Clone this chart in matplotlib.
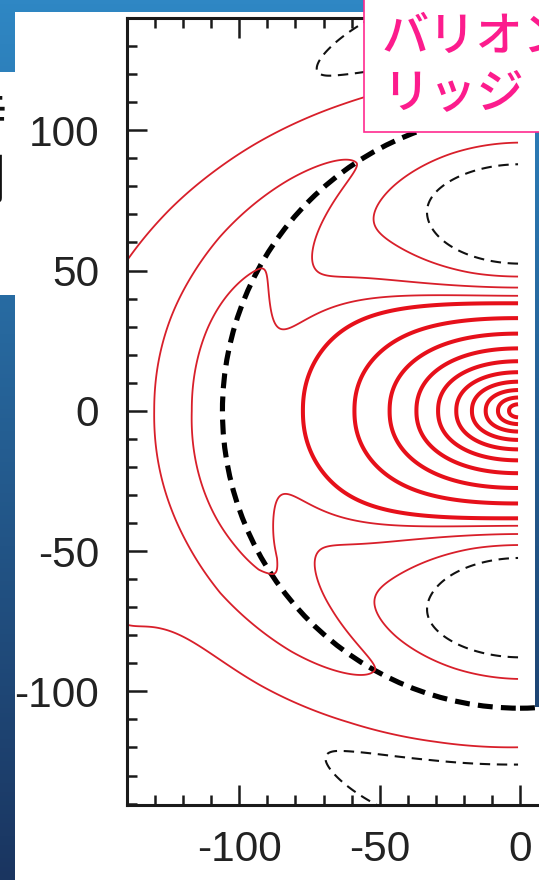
import numpy as np
import matplotlib.pyplot as plt
from matplotlib import patches

plt.rcParams['font.family'] = ['Liberation Sans', 'Noto Sans CJK JP']
plt.rcParams['axes.unicode_minus'] = False

# contour levels of the plotted quantity
thick_levels = [1.75, 2.75, 3.75, 4.75, 5.75, 6.75, 7.75, 8.75, 9.75, 10.75, 11.75]
thin_levels = [0.25, 0.75, 1.25]
neg_levels = [-0.05]

# field model (plot units)
core_amp, core_len = 11.84, 40.4            # central peak
core_yscale, core_pow = 1.65, 2.2           # flattened "D" rings
ring_r, ring_w_in, ring_w_out = 106.0, 12.6, 25.0
ring_ang = [0, 15, 30, 45, 60, 75, 90]      # degrees from the vertical axis
ring_amp_up = [0.55, 0.56, 0.60, 0.66, 0.71, 0.72, 0.72]
ring_amp_low = [0.55, 0.58, 0.64, 0.74, 0.81, 0.76, 0.72]
trough_y, trough_amp = 49.5, 1.45
trough_w_in, trough_w_out, trough_wx = 9.5, 25.0, 36.0
moat_r, moat_amp, moat_ang_w = 137.0, 0.60, 22.0
moat_w_in, moat_w_out = 11.9, 8.0
lower_stretch = 0.95                        # lower half sits a little further out
lobe_xy, lobe_w, lobe_amp = (-145.0, -78.0), 15.0, 0.12

circle_r = 106.0
xticks_major = [-100, -50, 0, 50, 100]
yticks_major = [-100, -50, 0, 50, 100]


def field(X, Y):
    r = np.hypot(X, Y)
    ay = np.abs(Y)
    alpha = np.degrees(np.arctan2(np.abs(X), np.where(Y < 0, ay * lower_stretch, ay)))
    rho = (np.abs(X) ** core_pow + (core_yscale * ay) ** core_pow) ** (1 / core_pow)
    core = core_amp * np.exp(-rho / core_len)
    w = np.where(r < ring_r, ring_w_in, ring_w_out)
    amp = np.where(Y < 0, np.interp(alpha, ring_ang, ring_amp_low),
                   np.interp(alpha, ring_ang, ring_amp_up))
    ring = amp * np.exp(-((r - ring_r) / w) ** 2)
    wy = np.where(ay < trough_y, trough_w_in, trough_w_out)
    trough = trough_amp * np.exp(-0.5 * (X / trough_wx) ** 2 - 0.5 * ((ay - trough_y) / wy) ** 2)
    wm = np.where(r < moat_r, moat_w_in, moat_w_out)
    moat = moat_amp * np.exp(-0.5 * ((r - moat_r) / wm) ** 2 - 0.5 * (alpha / moat_ang_w) ** 2)
    lobe = lobe_amp * np.exp(-((X - lobe_xy[0]) ** 2 + (Y - lobe_xy[1]) ** 2) / (2 * lobe_w ** 2))
    return core + ring - trough - moat + lobe


W, H = 539, 880
fig = plt.figure(figsize=(W / 100, H / 100), dpi=100)

# slide background
top_c = np.array([47, 135, 196]) / 255
bot_c = np.array([26, 53, 96]) / 255
t = np.linspace(0, 1, 200)[:, None, None]
grad = top_c * (1 - t) + bot_c * t
grad = np.repeat(grad, 2, axis=1)

bg = fig.add_axes([0, 0, 1, 1], zorder=0)
bg.set_xlim(0, W)
bg.set_ylim(H, 0)
bg.axis('off')
bg.imshow(grad, extent=(0, W, H, 0), aspect='auto')
bg.add_patch(patches.Rectangle((15, 12), 520, H, color='white', lw=0))
bg.add_patch(patches.Rectangle((530, 707), 20, H, color='white', lw=0))

# the chart
ax = fig.add_axes([127 / W, 75 / H, 786 / W, 787 / H], zorder=2)
ax.set_facecolor('none')
x = np.linspace(-141, -0.7, 700)
y = np.linspace(-142, 142, 1400)
X, Y = np.meshgrid(x, y)
Z = field(X, Y)

ax.contour(X, Y, Z, levels=thick_levels, colors='#e6101a', linewidths=2.9)
ax.contour(X, Y, Z, levels=thin_levels, colors='#d81f2a', linewidths=1.3)
ax.contour(X, Y, Z, levels=neg_levels, colors='#111111', linewidths=1.5,
           linestyles=[(0, (5, 3.2))])
ax.add_patch(patches.Circle((0, 0), circle_r, fill=False, color='black', lw=3.7,
                            ls=(0, (2.9, 1.6))))

ax.set_xlim(-140, 140)
ax.set_ylim(-140.5, 139.5)
ax.set_xticks(xticks_major)
ax.set_yticks(yticks_major)
ax.set_xticks(np.arange(-140, 141, 10), minor=True)
ax.set_yticks(np.arange(-140, 141, 10), minor=True)
ax.tick_params(which='both', direction='in', top=True, right=True, width=1.8,
               color='#1a1a1a')
ax.tick_params(which='major', length=14.4)
ax.tick_params(which='minor', length=7.2)
ax.tick_params(axis='y', labelsize=30.5, labelcolor='#222222', pad=20)
ax.tick_params(axis='x', labelsize=30.5, labelcolor='#222222', pad=18)
for s in ax.spines.values():
    s.set_linewidth(2.2)
    s.set_color('#1a1a1a')

# slide elements drawn over the chart
ov = fig.add_axes([0, 0, 1, 1], zorder=3)
ov.set_xlim(0, W)
ov.set_ylim(H, 0)
ov.axis('off')
ov.patch.set_alpha(0)
for rx, ry, rw, rh in [(0, 0, 364, 12), (0, 0, 15, 72), (0, 295, 15, 600), (535, 132, 10, 575)]:
    clip = patches.Rectangle((rx, ry), rw, rh, transform=ov.transData)
    im = ov.imshow(grad, extent=(0, W, H, 0), aspect='auto')
    im.set_clip_path(clip)

left_box = patches.Rectangle((0, 72), 15, 223, facecolor='white', lw=0)
ov.add_patch(left_box)
side = ov.text(6, 92, '時\n間', fontsize=40, family=['Noto Sans CJK JP'], color='#111111',
               ha='right', va='top', linespacing=1.1)
side.set_clip_path(left_box)

ov.add_patch(patches.Rectangle((364, -5), 200, 137, facecolor='white',
                               edgecolor='#ff2a8f', lw=1.2))
ov.text(382, 13, 'バリオン\nリッジ', fontsize=34, family=['Noto Sans CJK JP'],
        fontweight='medium', color='#fc1c8d', ha='left', va='top', linespacing=1.2)
ov.set_xlim(0, W)
ov.set_ylim(H, 0)

fig.savefig('out.png', dpi=100)
